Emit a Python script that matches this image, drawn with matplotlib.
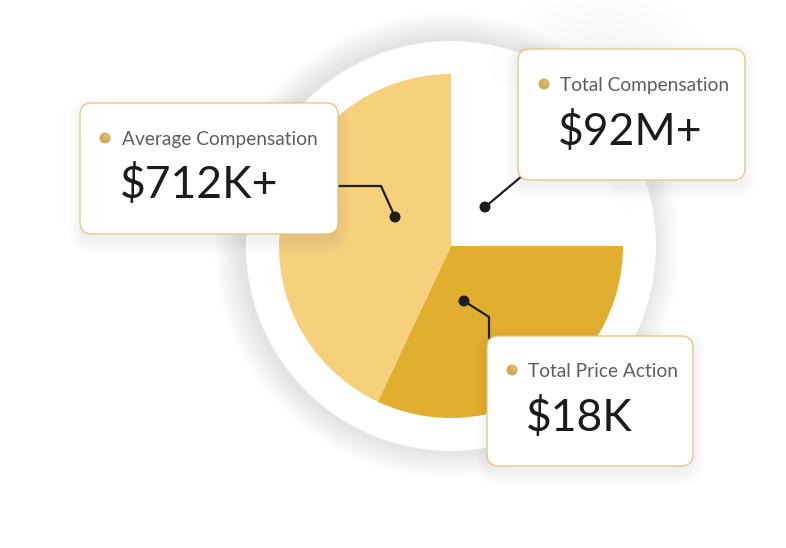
import numpy as np
import matplotlib.pyplot as plt
from matplotlib.patches import FancyBboxPatch, Circle

plt.rcParams['font.family'] = ['Lato', 'DejaVu Sans']

# pie shares (white slice, dark gold, light gold)
shares = [25, 32, 43]
slice_colors = ["#ffffff", "#e2ae2f", "#f6d07a"]

labels = ["Average Compensation", "Total Compensation", "Total Price Action"]
values = ["$712K+", "$92M+", "$18K"]

W, H = 786, 548

def py(y):
    # image pixel row -> data y
    return H - y

fig = plt.figure(figsize=(7.86, 5.48), dpi=100)
ax = fig.add_axes([0, 0, 1, 1])

cx, cy = 451, py(246)

# soft halo round the white disc
for i in range(28):
    ax.add_patch(Circle((cx - 4, cy + 1), 205 + 28 - i, color="#d8d8de", alpha=0.012, lw=0, zorder=1))
ax.add_patch(Circle((cx, cy), 205, color="white", lw=0, zorder=2))

ax.pie(shares, colors=slice_colors, startangle=90, counterclock=False,
       center=(cx, cy), radius=172, wedgeprops=dict(linewidth=0, zorder=3))

# faint shading inside the empty slice
for i in range(12):
    ax.add_patch(Circle((cx + 150, cy + 150), 30 + i * 8, color="#e9e9ec", alpha=0.025, lw=0, zorder=2.5))

# cards: x, y (top, pixels), width, height
cards = [(80, 103, 258, 131), (518, 49, 227, 131), (487, 336, 206, 130)]
for (x, y, w, h) in cards:
    for k in range(14):
        g = 14 - k
        ax.add_patch(FancyBboxPatch((x - g + 2, py(y + h) - g - 6), w + 2 * g - 4, h + 2 * g,
                                    boxstyle="round,pad=0,rounding_size=%d" % (12 + g),
                                    fc="#a0a0a8", ec="none", alpha=0.008, zorder=6))
    ax.add_patch(FancyBboxPatch((x, py(y + h)), w, h, boxstyle="round,pad=0,rounding_size=12",
                                fc="white", ec="#e2c47e", lw=0.9, zorder=7))

# connector lines with end dots
line_kw = dict(color="#1e1e1e", lw=1.6, zorder=5, solid_capstyle="round")
ax.plot([338, 381, 395], [py(186), py(186), py(217)], **line_kw)
ax.plot([522, 485], [py(176), py(207)], **line_kw)
ax.plot([464, 489, 489], [py(301), py(317), py(338)], **line_kw)
for (dx, dy) in [(395, 217), (485, 207), (464, 301)]:
    ax.add_patch(Circle((dx, py(dy)), 5.5, color="#1e1e1e", lw=0, zorder=5.5))

# text in cards
bullets = [(105, 138), (544, 84), (512, 370)]
label_pos = [(122, 145), (560, 91), (528, 377)]
value_pos = [(120, 198), (558, 145), (526, 431)]
for i in range(3):
    bx, by = bullets[i]
    ax.add_patch(Circle((bx, py(by)), 5.5, color="#d4a955", lw=0, zorder=8))
    ax.add_patch(Circle((bx + 1.5, py(by) + 1.5), 3, color="#e6c780", lw=0, alpha=0.6, zorder=8))
    lx, ly = label_pos[i]
    ax.text(lx, py(ly), labels[i], fontsize=13.8, color="#5e5e5e",
            ha="left", va="baseline", zorder=9)
    vx, vy = value_pos[i]
    ax.text(vx, py(vy), values[i], fontsize=32, color="#1b1b1b",
            ha="left", va="baseline", zorder=9)

ax.set_xlim(0, W)
ax.set_ylim(0, H)
ax.set_aspect("auto")
ax.axis("off")

fig.savefig("out.png", dpi=100, facecolor="white")
